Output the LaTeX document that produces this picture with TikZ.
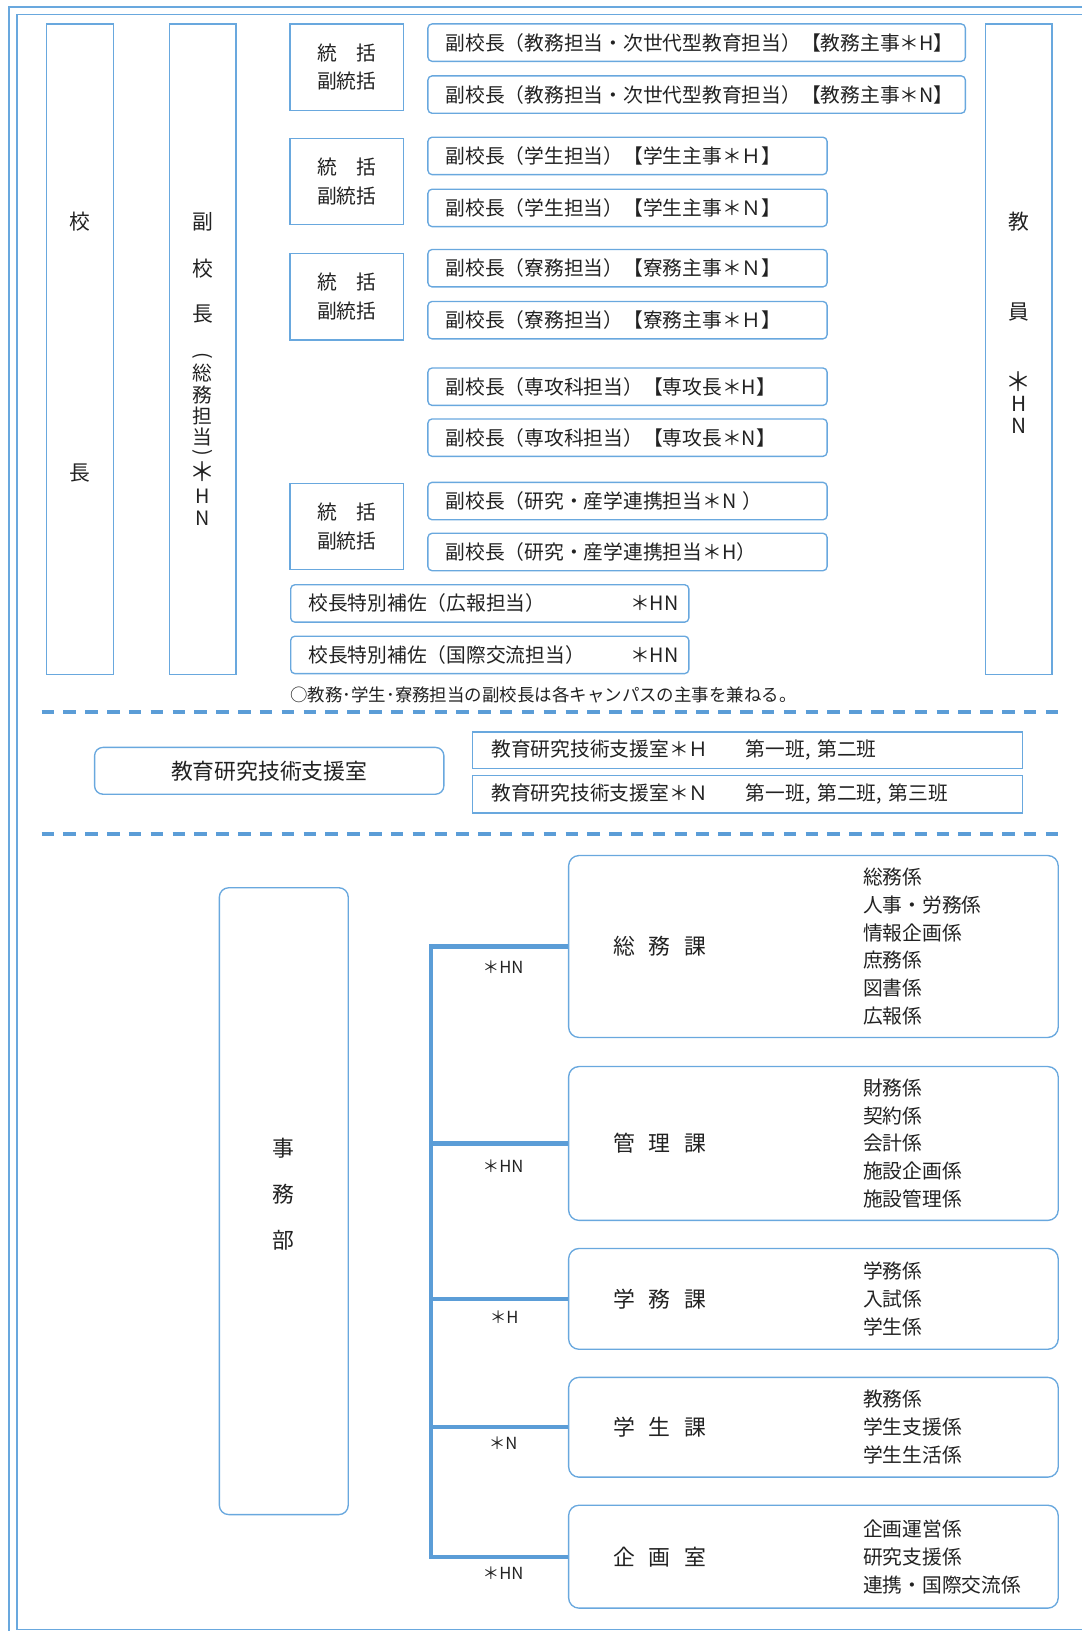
\documentclass[tikz,border=0pt]{standalone}
\usepackage{fontspec}
\usepackage{graphicx}
\setmainfont{Noto Sans CJK JP}
\definecolor{boxblue}{RGB}{105,168,222}
\definecolor{lineblue}{RGB}{91,157,215}
\definecolor{inkgray}{RGB}{34,34,34}

\begin{document}
\begin{tikzpicture}
    [
        x=1pt, y=-1pt,
        every node/.style={text=inkgray, font=\fontsize{19pt}{27pt}\selectfont},
        framebl/.style={draw=boxblue, line width=1.8pt},
        colbox/.style={draw=boxblue, line width=1.3pt, minimum width=64pt, minimum height=626pt, inner sep=0pt},
        colchar/.style={font=\fontsize{20pt}{24pt}\selectfont, inner sep=0pt},
        leadbox/.style={draw=boxblue, line width=1.3pt, minimum width=109pt, minimum height=83pt, inner sep=0pt, align=center, font=\fontsize{19pt}{27.5pt}\selectfont},
        vpbox/.style={draw=boxblue, line width=1.3pt, rounded corners=4pt, minimum height=36pt, inner xsep=17pt, inner ysep=0pt, anchor=west, align=left},
        memo/.style={anchor=west, inner sep=0pt, font=\fontsize{16.8pt}{20pt}\selectfont},
        dashline/.style={draw=lineblue, line width=3.5pt, dash pattern=on 12pt off 9pt},
        roundbox/.style={draw=boxblue, line width=1.3pt, rounded corners=9pt, inner sep=0pt},
        teambox/.style={draw=boxblue, line width=1.3pt, minimum height=36pt, inner xsep=18pt, inner ysep=0pt, anchor=west, align=left, text width=493pt},
        secbox/.style={draw=boxblue, line width=1.3pt, rounded corners=10pt, minimum width=471pt, inner sep=0pt},
        secname/.style={anchor=west, inner sep=0pt, font=\fontsize{21pt}{25pt}\selectfont},
        secitems/.style={anchor=west, inner sep=0pt, align=left, font=\fontsize{19pt}{26.8pt}\selectfont},
        trunk/.style={draw=lineblue, line width=4pt},
        branchlabel/.style={inner sep=0pt, font=\fontsize{16pt}{20pt}\selectfont},
    ]

    \useasboundingbox (0,0) rectangle (1040,1569);

    % frame
    \draw[framebl] (9,1575) |- (1045,7);
    \draw[framebl] (1045,14) -| (16,1567.5) -- (1045,1567.5);

    % columns
    \node (kocho) at (77,336)  [colbox] {};
    \node (fuku)  at (195,336) [colbox] {};
    \node (kyoin) at (980,336) [colbox] {};

    \foreach \ch/\yy [count=\i] in {校/213, 長/455}
        \node (kc\i) at (77,\yy) [colchar] {\ch};
    \foreach \ch/\yy [count=\i] in {副/213, 校/258, 長/302}
        \node (fc\i) at (195,\yy) [colchar] {\ch};
    \foreach \ch/\yy [count=\i] in {\rotatebox[origin=c]{-90}{(}/344, 総/359, 務/380, 担/400, 当/420, \rotatebox[origin=c]{-90}{)}/437, {\fontsize{25pt}{25pt}\selectfont ＊}/454, H/477, N/499}
        \node (fs\i) at (195,\yy) [colchar, font=\fontsize{19pt}{23pt}\selectfont] {\ch};
    \foreach \ch/\yy [count=\i] in {教/213, 員/300, {\fontsize{25pt}{25pt}\selectfont ＊}/367, H/389, N/410}
        \node (ec\i) at (980,\yy) [colchar] {\ch};

    % leads
    \node (lead1) at (333.5,64.5)  [leadbox] {統　括\\副統括};
    \node (lead2) at (333.5,174.5) [leadbox] {統　括\\副統括};
    \node (lead3) at (333.5,285.5) [leadbox] {統　括\\副統括};
    \node (lead4) at (333.5,506.5) [leadbox] {統　括\\副統括};

    % vice principals
    \node (fk1)  at (411,41)  [vpbox, text width=483pt] {副校長（教務担当・次世代型教育担当）【教務主事＊H】};
    \node (fk2)  at (411,91)  [vpbox, text width=483pt] {副校長（教務担当・次世代型教育担当）【教務主事＊N】};
    \node (fk3)  at (411,150) [vpbox, text width=350pt] {副校長（学生担当）【学生主事＊Ｈ】};
    \node (fk4)  at (411,200) [vpbox, text width=350pt] {副校長（学生担当）【学生主事＊Ｎ】};
    \node (fk5)  at (411,258) [vpbox, text width=350pt] {副校長（寮務担当）【寮務主事＊Ｎ】};
    \node (fk6)  at (411,308) [vpbox, text width=350pt] {副校長（寮務担当）【寮務主事＊Ｈ】};
    \node (fk7)  at (411,372) [vpbox, text width=350pt] {副校長（専攻科担当）【専攻長＊H】};
    \node (fk8)  at (411,421) [vpbox, text width=350pt] {副校長（専攻科担当）【専攻長＊N】};
    \node (fk9)  at (411,482) [vpbox, text width=350pt] {副校長（研究・産学連携担当＊N ）};
    \node (fk10) at (411,531) [vpbox, text width=350pt] {副校長（研究・産学連携担当＊H）};

    \node (hosa1) at (279,580.5) [vpbox, text width=349pt] {校長特別補佐（広報担当）\hskip0pt plus1filll ＊HN\hspace*{-7pt}};
    \node (hosa2) at (279,630)   [vpbox, text width=349pt] {校長特別補佐（国際交流担当）\hskip0pt plus1filll ＊HN\hspace*{-7pt}};

    \node (memo) at (279,668) [memo] {○教務･学生･寮務担当の副校長は各キャンパスの主事を兼ねる。};

    \draw[dashline] (40,685) -- (1022,685);

    % support office
    \node (shien) at (259,741.5) [roundbox, rounded corners=8pt, minimum width=336pt, minimum height=45pt, font=\fontsize{21pt}{25pt}\selectfont] {教育研究技術支援室};
    \node (shienH) at (454,721.5) [teambox, minimum height=35pt] {\makebox[245pt][l]{教育研究技術支援室＊Ｈ}第一班, 第二班};
    \node (shienN) at (454,764)   [teambox] {\makebox[245pt][l]{教育研究技術支援室＊Ｎ}第一班, 第二班, 第三班};

    \draw[dashline] (40,802) -- (1022,802);

    % office
    \node (jimu) at (273,1155.5) [roundbox, minimum width=124pt, minimum height=603pt] {};
    \foreach \ch/\yy [count=\i] in {事/1105, 務/1149, 部/1193}
        \node (jc\i) at (273,\yy) [colchar, font=\fontsize{21pt}{25pt}\selectfont] {\ch};

    \node (soumu)   at (782.5,910.5)  [secbox, minimum height=175pt] {};
    \node (kanri)   at (782.5,1100)   [secbox, minimum height=148pt] {};
    \node (gakumu)  at (782.5,1249.5) [secbox, minimum height=97pt] {};
    \node (gakusei) at (782.5,1373)   [secbox, minimum height=96pt] {};
    \node (kikaku)  at (782.5,1497.5) [secbox, minimum height=99pt] {};

    \node (soumuN)   at (590,910.5)  [secname] {総\hspace{13pt}務\hspace{13pt}課};
    \node (kanriN)   at (590,1100)   [secname] {管\hspace{13pt}理\hspace{13pt}課};
    \node (gakumuN)  at (590,1249.5) [secname] {学\hspace{13pt}務\hspace{13pt}課};
    \node (gakuseiN) at (590,1373)   [secname] {学\hspace{13pt}生\hspace{13pt}課};
    \node (kikakuN)  at (590,1497.5) [secname] {企\hspace{13pt}画\hspace{13pt}室};

    \node (soumuK)   at (830,910.5)  [secitems] {総務係\\人事・労務係\\情報企画係\\庶務係\\図書係\\広報係};
    \node (kanriK)   at (830,1100)   [secitems] {財務係\\契約係\\会計係\\施設企画係\\施設管理係};
    \node (gakumuK)  at (830,1249.5) [secitems] {学務係\\入試係\\学生係};
    \node (gakuseiK) at (830,1373)   [secitems] {教務係\\学生支援係\\学生生活係};
    \node (kikakuK)  at (830,1497.5) [secitems] {企画運営係\\研究支援係\\連携・国際交流係};

    \coordinate (trunktop) at (415,911);
    \draw[trunk] (soumu.west) -- (soumu.west -| trunktop) -- (kikaku.west -| trunktop) -- (kikaku.west);
    \foreach \sec in {kanri, gakumu, gakusei}
        \draw[trunk] (\sec.west) -- (\sec.west -| trunktop);

    \node (lab1) at (484,930)  [branchlabel] {＊HN};
    \node (lab2) at (484,1122) [branchlabel] {＊HN};
    \node (lab3) at (485,1267) [branchlabel] {＊H};
    \node (lab4) at (484,1388) [branchlabel] {＊N};
    \node (lab5) at (484,1513) [branchlabel] {＊HN};

\end{tikzpicture}
\end{document}
